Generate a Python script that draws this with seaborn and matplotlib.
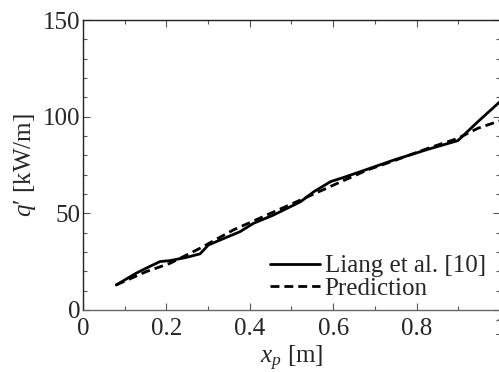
import matplotlib
matplotlib.use("Agg")
import matplotlib.pyplot as plt
import seaborn as sns
import pandas as pd
from matplotlib.ticker import MultipleLocator

sns.set_theme(style="ticks")
plt.rcParams['font.family'] = ['Liberation Serif', 'DejaVu Serif']
plt.rcParams['mathtext.fontset'] = 'custom'
plt.rcParams['mathtext.rm'] = 'Liberation Serif'
plt.rcParams['mathtext.it'] = 'Liberation Serif:italic'

liang_x = [0.080, 0.128, 0.152, 0.185, 0.209, 0.249, 0.281, 0.301, 0.345, 0.377,
           0.409, 0.457, 0.522, 0.554, 0.594, 0.626, 0.666, 0.746, 0.827, 0.899,
           0.947, 1.0]
liang_y = [12.9, 19.0, 21.6, 25.0, 25.5, 27.2, 29.0, 33.6, 37.6, 40.5,
           44.8, 49.1, 56.0, 61.2, 66.4, 68.6, 71.6, 77.6, 83.1, 87.6,
           97.4, 107.8]

pred_x = [0.080, 0.152, 0.209, 0.281, 0.361, 0.441, 0.522, 0.602, 0.682, 0.746,
          0.827, 0.899, 0.947, 1.0]
pred_y = [12.9, 19.8, 24.1, 31.9, 41.4, 49.1, 56.9, 64.7, 72.4, 77.2,
          83.6, 88.8, 94.0, 97.9]

df = pd.concat([
    pd.DataFrame({"x": liang_x, "y": liang_y, "series": "Liang et al. [10]"}),
    pd.DataFrame({"x": pred_x, "y": pred_y, "series": "Prediction"}),
])

fig = plt.figure(figsize=(4.99, 3.72), dpi=100)
ax = fig.add_axes([0.166, 0.167, 0.836, 0.779])

sns.lineplot(data=df, x="x", y="y", hue="series", style="series",
             palette=["black", "black"], dashes=[(None, None), (3.2, 1.8)],
             linewidth=2.0, sort=False, estimator=None, ax=ax)

ax.set_xlim(0, 1)
ax.set_ylim(0, 150)
ax.xaxis.set_major_locator(MultipleLocator(0.2))
ax.xaxis.set_minor_locator(MultipleLocator(0.1))
ax.yaxis.set_major_locator(MultipleLocator(50))
ax.yaxis.set_minor_locator(MultipleLocator(10))
ax.set_xticklabels(["0" if abs(t) < 1e-9 else ("1" if abs(t-1) < 1e-9 else f"{t:.1f}")
                    for t in ax.get_xticks()])
ax.tick_params(which="both", direction="in", top=True, right=True,
               color="#555555", labelsize=18)
ax.tick_params(axis="x", pad=5.5)
ax.tick_params(axis="y", pad=1.5)
ax.tick_params(which="major", length=5, width=0.8)
ax.tick_params(which="minor", length=3, width=0.8)
for name, s in ax.spines.items():
    s.set_color("#222222" if name in ("left", "top") else "#666666")
    s.set_linewidth(1.0)

ax.set_xlabel(r"$x_p$ [m]", fontsize=18, labelpad=3)
ax.set_ylabel(r"$q$′ [kW/m]", fontsize=18, labelpad=4)

leg = ax.legend(loc="lower right", frameon=False, fontsize=18,
                handlelength=2.0, handletextpad=0.2, labelspacing=0.0,
                borderaxespad=0.0, bbox_to_anchor=(0.99, 0.0))
for h in leg.get_lines():
    h.set_linewidth(2.0)

fig.savefig("out.png", dpi=100)
